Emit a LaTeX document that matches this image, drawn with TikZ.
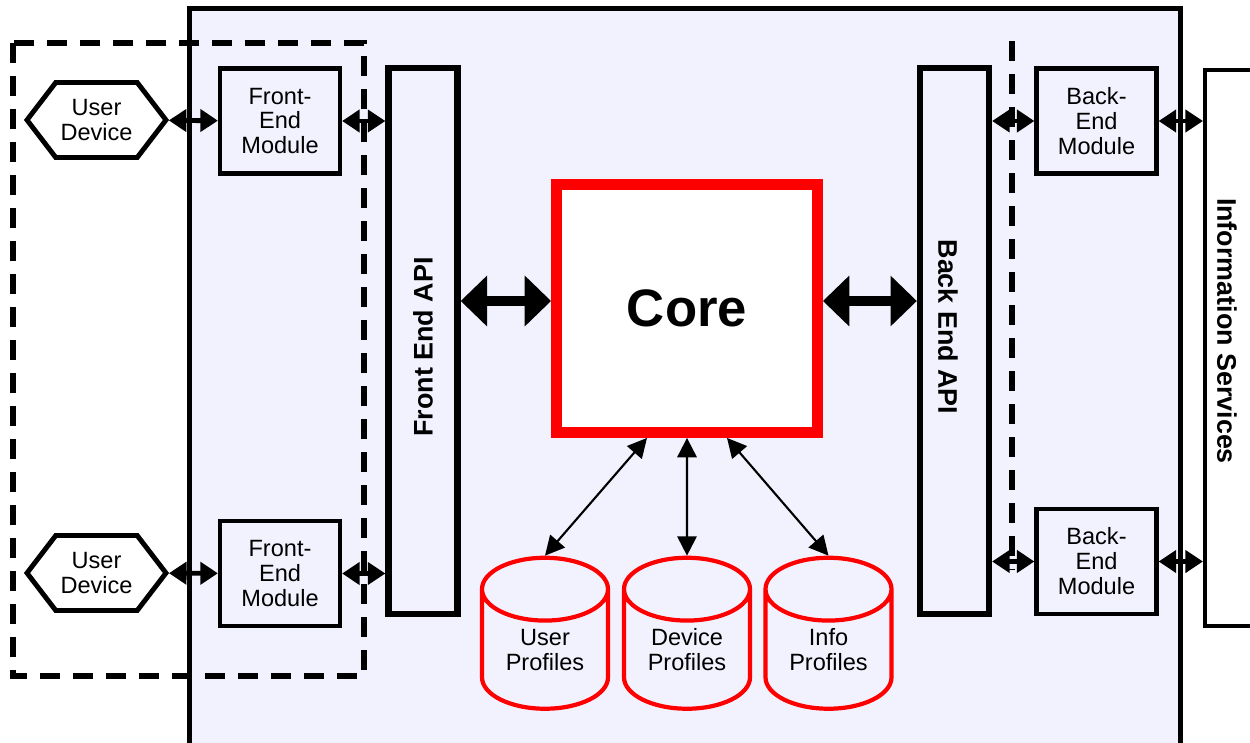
\documentclass[tikz,border=0pt]{standalone}
\usepackage{fontspec}
\usepackage{graphicx}
\setmainfont{Liberation Sans}
\usetikzlibrary{arrows.meta, shapes.geometric, shapes.symbols}
\definecolor{dotbg}{RGB}{242,242,254}
\definecolor{corered}{RGB}{255,0,0}
\tikzset{
    every node/.style={font=\fontsize{13.4}{14.2}\selectfont, align=center, inner sep=0pt},
    device/.style={signal, signal to=west and east, signal pointer angle=105, draw,
    	line width=2.8pt, fill=white, minimum width=2.78cm, minimum height=1.5cm},
    module/.style={rectangle, draw, line width=2.4pt, minimum width=2.4cm, minimum height=2.1cm},
    api/.style={rectangle, draw, line width=3.6pt, minimum width=1.38cm, minimum height=10.92cm},
    corebox/.style={rectangle, draw=corered, fill=white, line width=6.2pt, minimum width=5.22cm,
    	minimum height=4.96cm, font=\fontsize{30}{32}\selectfont\bfseries},
    service/.style={rectangle, draw, line width=2.3pt, fill=white, minimum width=1.4cm, minimum height=11.12cm},
    store/.style={cylinder, shape border rotate=90, aspect=0.8, draw=corered, line width=2.4pt,
    	minimum width=2.52cm, minimum height=3.02cm},
    vtext/.style={font=\fontsize{15.3}{17}\selectfont\bfseries},
    conn/.style={{Triangle[length=10pt,width=12.5pt]}-{Triangle[length=10pt,width=12.5pt]}, line width=2.8pt},
    bigconn/.style={{Triangle[length=15pt,width=28pt]}-{Triangle[length=15pt,width=28pt]}, line width=5.7pt},
    dbconn/.style={{Triangle[length=11pt,width=11pt]}-{Triangle[length=11pt,width=11pt]}, line width=1.2pt},
    dashline/.style={dash pattern=on 0.4cm off 0.26cm, line width=3.2pt}
}

\begin{document}
\begin{tikzpicture}[x=0.02cm, y=-0.02cm]
	\useasboundingbox (0,0) rectangle (1250,743);
	\clip (0,0) rectangle (1250,743);
	\draw [line width=2.8pt, fill=dotbg] (189.5,8.5) rectangle (1180.5,746);
	\draw [dashline] (13,43) rectangle (364,676);
	\draw [dashline] (1012,41) -- (1012,570);

	\node (ud1) [device] at (96.5,120) {User\\Device};
	\node (ud2) [device] at (96.5,573) {User\\Device};
	\node (fe1) [module] at (280,121) {Front-\\End\\Module};
	\node (fe2) [module] at (280,573.5) {Front-\\End\\Module};
	\node (feapi) [api] at (423,341) {};
	\node (feapitxt) [vtext, rotate=90] at (423,347) {Front End API};
	\node (core) [corebox] at (687,308.5) {Core};
	\node (beapi) [api] at (954.5,341) {};
	\node (beapitxt) [vtext, rotate=-90] at (948,327) {Back End API};
	\node (be1) [module] at (1096.5,121) {Back-\\End\\Module};
	\node (be2) [module] at (1096.5,561.5) {Back-\\End\\Module};
	\node (info) [service] at (1240,348) {};
	\node (infotxt) [vtext, rotate=-90] at (1227,331) {Information Services};
	\node (up) [store] at (545,650) {User\\Profiles};
	\node (dp) [store] at (687,650) {Device\\Profiles};
	\node (ip) [store] at (828.5,650) {Info\\Profiles};

	\draw (ud1) edge[conn] (fe1); \draw (ud2) edge[conn] (fe2);
	\draw (fe1.east) edge[conn] (fe1.east -| feapi.west);
	\draw (fe2.east) edge[conn] (fe2.east -| feapi.west);
	\draw (be1.west -| beapi.east) edge[conn] (be1.west);
	\draw (be2.west -| beapi.east) edge[conn] (be2.west);
	\draw (be1.east) edge[conn] (be1.east -| info.west);
	\draw (be2.east) edge[conn] (be2.east -| info.west);

	\draw ([shift={(0,-7.5)}]core.west -| feapi.east) edge[bigconn] ([shift={(0,-7.5)}]core.west);
	\draw ([shift={(0,-7.5)}]core.east) edge[bigconn] ([shift={(0,-7.5)}]core.east -| beapi.west);

	\draw ([shift={(-40,0)}]core.south) edge[dbconn] (up.north);
	\draw (core.south) edge[dbconn] (dp.north);
	\draw ([shift={(40,0)}]core.south) edge[dbconn] (ip.north);
\end{tikzpicture}
\end{document}
